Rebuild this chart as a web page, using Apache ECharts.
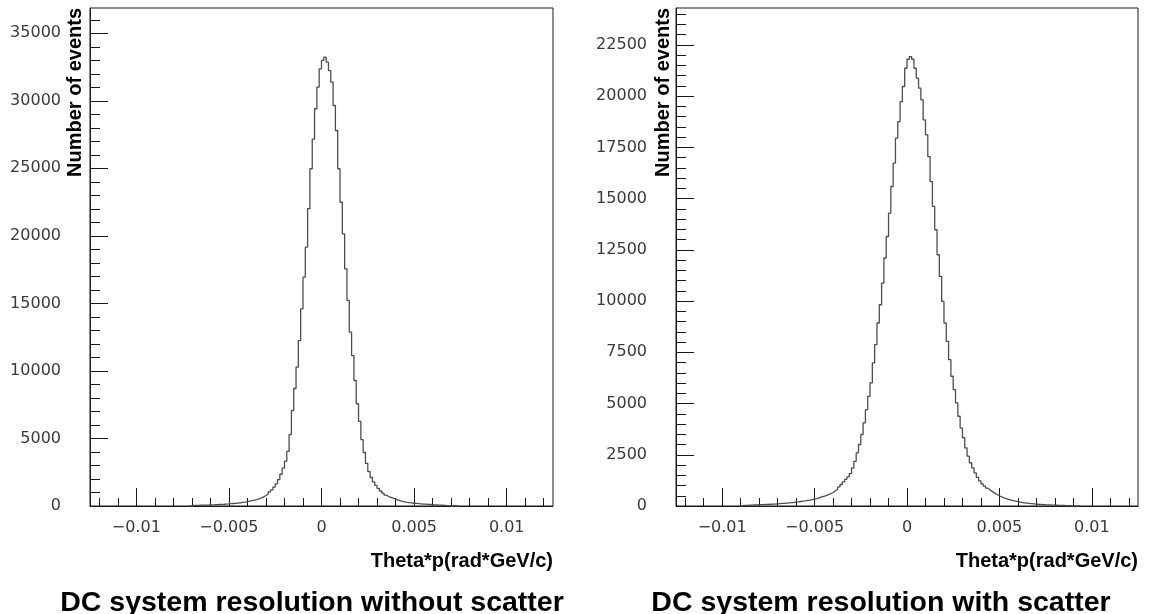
<!DOCTYPE html>
<html>
<head>
<meta charset="utf-8">
<title>DC system resolution</title>
<script src="https://cdn.jsdelivr.net/npm/echarts@6/dist/echarts.min.js"></script>
<style>
  html, body { margin: 0; padding: 0; background: #ffffff; }
  #chart { width: 1152px; height: 614px; }
</style>
</head>
<body>
<div id="chart"></div>
<script>
// ---- Histogram data -------------------------------------------------------
// Both panels share the same binning: bins of 0.000125 over [-0.0125, 0.0125].
const binWidth = 0.000125;
const xRange = [-0.0125, 0.0125];

// Panel 1: without multiple scattering. First listed bin starts at index -57.
const noScatterFirstBin = -57;
const noScatterCounts = [
  0, 40, 45, 50, 55, 60, 65, 70, 78, 85, 92, 100, 110, 120, 130, 142, 155, 170, 185, 200,
  220, 240, 265, 290, 320, 355, 390, 430, 480, 535, 600, 680, 780, 900, 1050, 1200, 1400,
  1640, 1950, 2350, 2800, 3320,
  4040, 5290, 7070, 8700, 10280, 12250, 14600, 16940, 19160, 22010, 24970, 27160, 29410,
  31010, 32370, 32990, 33230,
  32860, 32240, 31380, 29650, 27800, 24970, 22490, 20150, 17560, 15220, 12870, 11140, 9290,
  7570, 6260, 4920, 3960, 3150, 2550, 2110, 1780, 1520, 1300, 1110, 960, 810, 700,
  640, 580, 520, 450, 390, 340, 300, 270, 245, 225, 205, 190, 175, 160, 145, 135, 120, 110,
  98, 86, 75, 64, 54, 45, 36, 28, 20, 12, 6, 0
];

// Panel 2: with multiple scattering. First listed bin starts at index -73.
const withScatterFirstBin = -73;
const withScatterCounts = [
  0, 15, 25, 35, 40, 45, 50, 55, 60, 65, 70, 75, 80, 85, 90, 95, 105, 115, 125, 130, 140,
  150, 160, 170, 185, 200, 220, 235, 250, 270, 290, 315, 340, 360, 400, 440, 475, 510, 550,
  600, 660, 740, 820, 930, 1050, 1180, 1300, 1420,
  1580, 1860, 2180, 2590, 3000, 3490, 4060, 4700, 5350, 6010, 6980, 7870, 8930, 9820, 10880,
  12100, 13150, 14290, 15590, 16730, 17950, 18760, 19730, 20470, 21360, 21800, 21930,
  21800, 21360, 20880, 20390, 19820, 18840, 18110, 17050, 15830, 14620, 13480, 12260, 11200,
  9980, 8930, 8030, 7140, 6330, 5680, 5030, 4380, 3810, 3330, 2840, 2430, 2110, 1860, 1620,
  1400, 1230, 1080, 970, 870, 780, 700, 630, 560, 500, 450, 400, 360, 320, 290, 260, 235,
  210, 190, 170, 155, 140, 125, 115, 105, 95, 85, 78, 70, 62, 55, 50, 45, 40, 36, 32, 28,
  24, 20, 16, 12, 10, 8, 5, 0
];

// ---- Axes -----------------------------------------------------------------
const xMajorTicks = [-0.01, -0.005, 0, 0.005, 0.01];
const xMinorTicks = [
  -0.012, -0.011, -0.01, -0.009, -0.008, -0.007, -0.006, -0.005, -0.004, -0.003, -0.002,
  -0.001, 0, 0.001, 0.002, 0.003, 0.004, 0.005, 0.006, 0.007, 0.008, 0.009, 0.01, 0.011, 0.012
];

const noScatterYMax = 36870;
const noScatterYMajor = [0, 5000, 10000, 15000, 20000, 25000, 30000, 35000];
const noScatterYMinorStep = 1000;

const withScatterYMax = 24300;
const withScatterYMajor = [0, 2500, 5000, 7500, 10000, 12500, 15000, 17500, 20000, 22500];
const withScatterYMinorStep = 500;

// ---- Text -----------------------------------------------------------------
const xTitle = 'Theta*p(rad*GeV/c)';
const yTitle = 'Number of events';
const panelTitles = ['DC system resolution without scatter', 'DC system resolution with scatter'];

// ---- Helpers --------------------------------------------------------------
function stepsUpTo(maxValue, step) {
  const out = [];
  for (let v = 0; v <= maxValue; v += step) out.push(v);
  return out;
}

// Outline of a histogram: one point at each bin's low edge plus the closing edge.
function histogramOutline(firstBin, counts) {
  const pts = counts.map((c, i) => [(firstBin + i) * binWidth, c]);
  pts.push([(firstBin + counts.length) * binWidth, counts[counts.length - 1]]);
  return pts;
}

const LABEL_FONT = 'DejaVu Sans';
const TITLE_FONT = 'Liberation Sans';
const FRAME = '#1a1a1a';
const LABEL_COLOR = '#3a3a3a';
const HIST_COLOR = '#4d4d4d';

function formatX(v) {
  if (v === 0) return '0';
  return v < 0 ? '\u2212' + String(-v) : String(v);
}
function formatY(v) {
  return String(v);
}

function majorX(gridIndex) {
  return {
    type: 'value', gridIndex, position: 'bottom', min: xRange[0], max: xRange[1],
    axisLine: { show: true, onZero: false, lineStyle: { color: FRAME, width: 1 } },
    axisTick: { show: true, inside: true, length: 18, customValues: xMajorTicks,
                lineStyle: { color: FRAME, width: 1 } },
    axisLabel: { show: true, customValues: xMajorTicks, formatter: formatX, margin: 14,
                 fontFamily: LABEL_FONT, fontSize: 16, color: LABEL_COLOR },
    splitLine: { show: false }
  };
}
function minorX(gridIndex) {
  return {
    type: 'value', gridIndex, position: 'bottom', min: xRange[0], max: xRange[1],
    axisLine: { show: false, onZero: false },
    axisTick: { show: true, inside: true, length: 8, customValues: xMinorTicks,
                lineStyle: { color: FRAME, width: 1 } },
    axisLabel: { show: false },
    splitLine: { show: false }
  };
}
function majorY(gridIndex, max, ticks) {
  return {
    type: 'value', gridIndex, position: 'left', min: 0, max,
    axisLine: { show: true, onZero: false, lineStyle: { color: FRAME, width: 1 } },
    axisTick: { show: true, inside: true, length: 18, customValues: ticks,
                lineStyle: { color: FRAME, width: 1 } },
    axisLabel: { show: true, customValues: ticks, formatter: formatY, margin: 29,
                 fontFamily: LABEL_FONT, fontSize: 16, color: LABEL_COLOR },
    splitLine: { show: false }
  };
}
function minorY(gridIndex, max, step) {
  return {
    type: 'value', gridIndex, position: 'left', min: 0, max,
    axisLine: { show: false, onZero: false },
    axisTick: { show: true, inside: true, length: 10, customValues: stepsUpTo(max, step),
                lineStyle: { color: FRAME, width: 1 } },
    axisLabel: { show: false },
    splitLine: { show: false }
  };
}

const grids = [
  { left: 90, top: 8, width: 463, height: 498 },
  { left: 676, top: 8, width: 462, height: 498 }
];

const option = {
  animation: false,
  backgroundColor: '#ffffff',
  grid: grids.map(g => Object.assign({
    show: true, borderColor: FRAME, borderWidth: 1, backgroundColor: 'transparent',
    containLabel: false, outerBoundsMode: 'none'
  }, g)),
  xAxis: [majorX(0), minorX(0), majorX(1), minorX(1)],
  yAxis: [
    majorY(0, noScatterYMax, noScatterYMajor),
    minorY(0, noScatterYMax, noScatterYMinorStep),
    majorY(1, withScatterYMax, withScatterYMajor),
    minorY(1, withScatterYMax, withScatterYMinorStep)
  ],
  series: [
    {
      type: 'line', name: panelTitles[0], xAxisIndex: 0, yAxisIndex: 0,
      step: 'end', symbol: 'none', silent: true,
      lineStyle: { color: HIST_COLOR, width: 1.3 },
      data: histogramOutline(noScatterFirstBin, noScatterCounts)
    },
    {
      type: 'line', name: panelTitles[1], xAxisIndex: 2, yAxisIndex: 2,
      step: 'end', symbol: 'none', silent: true,
      lineStyle: { color: HIST_COLOR, width: 1.3 },
      data: histogramOutline(withScatterFirstBin, withScatterCounts)
    }
  ],
  graphic: [
    { type: 'text', x: 75, y: 8, rotation: Math.PI / 2,
      style: { text: yTitle, fill: '#000', align: 'right', verticalAlign: 'middle',
               font: 'bold 20px "' + TITLE_FONT + '"' } },
    { type: 'text', x: 663, y: 8, rotation: Math.PI / 2,
      style: { text: yTitle, fill: '#000', align: 'right', verticalAlign: 'middle',
               font: 'bold 20px "' + TITLE_FONT + '"' } },
    { type: 'text', x: 553, y: 561,
      style: { text: xTitle, fill: '#000', align: 'right', verticalAlign: 'middle',
               font: 'bold 20px "' + TITLE_FONT + '"' } },
    { type: 'text', x: 1138, y: 561,
      style: { text: xTitle, fill: '#000', align: 'right', verticalAlign: 'middle',
               font: 'bold 20px "' + TITLE_FONT + '"' } },
    { type: 'text', x: 312, y: 603,
      style: { text: panelTitles[0], fill: '#000', align: 'center', verticalAlign: 'middle',
               font: 'bold 28.5px "' + TITLE_FONT + '"' } },
    { type: 'text', x: 881, y: 603,
      style: { text: panelTitles[1], fill: '#000', align: 'center', verticalAlign: 'middle',
               font: 'bold 28.5px "' + TITLE_FONT + '"' } }
  ]
};

const chart = echarts.init(document.getElementById('chart'), null, { renderer: 'canvas' });
chart.setOption(option);
</script>
</body>
</html>
